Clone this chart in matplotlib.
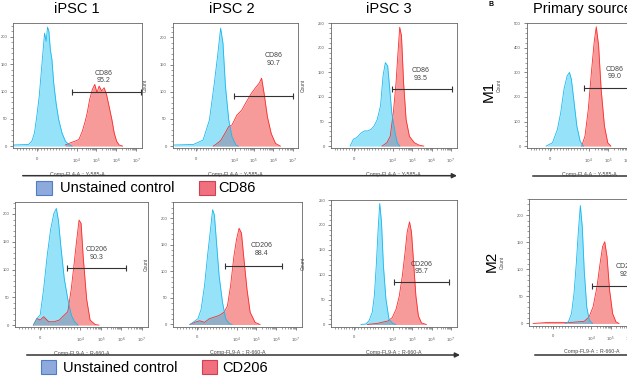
import numpy as np
import matplotlib
matplotlib.use("Agg")
import matplotlib.pyplot as plt
from matplotlib.patches import Rectangle

plt.rcParams['font.family'] = ['Liberation Sans', 'DejaVu Sans']

# ================= DATA =================
# x is in display units of the logicle axis: 2 -> "0", 4 -> 1e4, 5 -> 1e5 ...
# --- iPSC 1, CD86 ---
P1_CTRL_X = [0.81, 1.58, 1.75, 1.88, 2.0, 2.12, 2.22, 2.32, 2.39, 2.47, 2.54, 2.61, 2.68, 2.76, 2.85, 2.97, 3.1, 3.27, 3.44, 3.61, 3.78]
P1_CTRL_Y = [2, 3, 9, 24, 55, 91, 134, 177, 207, 192, 218, 210, 177, 159, 116, 79, 49, 24, 9, 3, 0]
P1_STAIN_X = [3.44, 3.69, 3.92, 4.12, 4.29, 4.42, 4.54, 4.66, 4.8, 4.92, 5.03, 5.14, 5.27, 5.39, 5.51, 5.64, 5.78, 5.9, 6.02, 6.15, 6.32]
P1_STAIN_Y = [2, 6, 9, 12, 27, 43, 61, 85, 104, 113, 98, 110, 101, 107, 95, 73, 49, 24, 9, 2, 0]

# --- iPSC 2, CD86 ---
P2_CTRL_X = [0.87, 1.87, 2.37, 2.7, 2.95, 3.12, 3.28, 3.4, 3.53, 3.7, 3.87, 4.07, 4.2]
P2_CTRL_Y = [2, 3, 11, 48, 115, 165, 217, 190, 110, 48, 17, 2, 0]
P2_STAIN_X = [2.9, 3.03, 3.28, 3.53, 3.7, 3.87, 4.12, 4.37, 4.62, 4.87, 5.12, 5.28, 5.4, 5.53, 5.7, 5.9, 6.12, 6.37]
P2_STAIN_Y = [0, 3, 10, 25, 36, 39, 57, 66, 82, 97, 109, 116, 125, 97, 54, 23, 5, 0]

# --- iPSC 3, CD86 ---
P3_CTRL_X = [1.8, 1.97, 2.13, 2.38, 2.55, 2.71, 2.88, 3.04, 3.2, 3.37, 3.5, 3.62, 3.74, 3.83, 3.95, 4.12, 4.23, 4.36]
P3_CTRL_Y = [0, 14, 17, 27, 31, 31, 34, 41, 54, 82, 143, 170, 163, 123, 68, 27, 7, 0]
P3_STAIN_X = [3.45, 3.7, 3.87, 4.03, 4.17, 4.26, 4.36, 4.45, 4.56, 4.69, 4.86, 5.11, 5.36, 5.6]
P3_STAIN_Y = [0, 7, 20, 68, 129, 184, 242, 225, 129, 54, 20, 7, 2, 0]

# --- Primary source M1, CD86 ---
M1_CTRL_X = [1.8, 2.13, 2.38, 2.55, 2.72, 2.88, 3.0, 3.1, 3.22, 3.38, 3.55, 3.72]
M1_CTRL_Y = [0, 14, 68, 136, 232, 286, 300, 272, 191, 82, 20, 0]
M1_STAIN_X = [3.63, 3.8, 3.97, 4.13, 4.27, 4.38, 4.5, 4.63, 4.8, 4.97, 5.13]
M1_STAIN_Y = [0, 41, 150, 300, 422, 486, 409, 232, 82, 14, 0]

# --- iPSC 1, CD206 ---
P5_CTRL_X = [1.7, 1.87, 2.03, 2.2, 2.37, 2.54, 2.7, 2.82, 2.92, 3.04, 3.21, 3.38, 3.55, 3.71, 3.88]
P5_CTRL_Y = [0, 12, 18, 65, 124, 172, 201, 210, 189, 142, 83, 47, 18, 6, 0]
P5_STAIN_X = [1.7, 1.87, 2.03, 2.2, 2.45, 2.7, 2.96, 3.21, 3.38, 3.55, 3.66, 3.8, 3.93, 4.03, 4.13, 4.3, 4.47, 4.72, 4.9]
P5_STAIN_Y = [0, 12, 9, 15, 6, 6, 9, 18, 24, 65, 101, 148, 189, 183, 124, 47, 9, 1, 0]

# --- iPSC 2, CD206 ---
P6_CTRL_X = [1.64, 1.8, 2.05, 2.21, 2.38, 2.55, 2.68, 2.79, 2.88, 2.99, 3.12, 3.29, 3.45, 3.62, 3.78]
P6_CTRL_Y = [0, 4, 11, 29, 73, 135, 178, 216, 206, 153, 91, 42, 11, 2, 0]
P6_STAIN_X = [1.64, 1.88, 2.13, 2.38, 2.63, 2.88, 3.12, 3.37, 3.54, 3.7, 3.87, 4.0, 4.13, 4.25, 4.36, 4.53, 4.69, 4.94, 5.19]
P6_STAIN_Y = [0, 4, 7, 4, 11, 14, 17, 23, 35, 73, 129, 160, 181, 172, 129, 66, 23, 4, 0]

# --- iPSC 3, CD206 ---
P7_CTRL_X = [2.35, 2.6, 2.76, 2.93, 3.04, 3.14, 3.24, 3.32, 3.41, 3.51, 3.64, 3.8, 4.0, 4.16]
P7_CTRL_Y = [0, 1, 7, 24, 57, 118, 193, 243, 206, 118, 51, 10, 2, 0]
P7_STAIN_X = [2.68, 3.18, 3.51, 3.75, 3.97, 4.16, 4.33, 4.49, 4.63, 4.74, 4.86, 4.96, 5.07, 5.19, 5.32, 5.48, 5.73]
P7_STAIN_Y = [0, 2, 5, 7, 14, 30, 57, 98, 145, 186, 206, 186, 125, 57, 17, 3, 0]

# --- Primary source M2, CD206 ---
M2_CTRL_X = [2.66, 2.82, 2.98, 3.11, 3.23, 3.34, 3.44, 3.54, 3.64, 3.77, 3.9, 4.07]
M2_CTRL_Y = [0, 3, 18, 55, 111, 172, 218, 178, 98, 31, 6, 0]
M2_STAIN_X = [1.0, 1.84, 2.98, 3.64, 3.89, 4.1, 4.3, 4.46, 4.59, 4.7, 4.82, 4.95, 5.11, 5.28, 5.44]
M2_STAIN_Y = [0, 2, 2, 4, 12, 31, 68, 111, 142, 151, 123, 62, 18, 3, 0]

# gates: (x start, x end, y), label position, marker name, percent
GATES = [
    (3.75, 7.25, 99, 5.34, 127, "CD86", "95.2"),
    (3.95, 7.0, 92, 6.03, 159, "CD86", "90.7"),
    (3.95, 7.04, 117, 5.44, 146, "CD86", "93.5"),
    (3.77, 7.5, 238, 5.3, 297, "CD86", "99.0"),
    (3.34, 6.24, 102, 4.81, 129, "CD206", "90.3"),
    (3.4, 6.3, 110, 5.27, 141, "CD206", "88.4"),
    (4.08, 6.92, 86, 5.48, 113, "CD206", "95.7"),
    (4.02, 7.5, 70, 5.84, 98, "CD206", "92.1"),
]

YMAX = [225, 226, 250, 500, 221, 231, 250, 230]
YSTEP = [50, 50, 50, 100, 50, 50, 50, 50]

CURVES = [
    (P1_CTRL_X, P1_CTRL_Y, P1_STAIN_X, P1_STAIN_Y),
    (P2_CTRL_X, P2_CTRL_Y, P2_STAIN_X, P2_STAIN_Y),
    (P3_CTRL_X, P3_CTRL_Y, P3_STAIN_X, P3_STAIN_Y),
    (M1_CTRL_X, M1_CTRL_Y, M1_STAIN_X, M1_STAIN_Y),
    (P5_CTRL_X, P5_CTRL_Y, P5_STAIN_X, P5_STAIN_Y),
    (P6_CTRL_X, P6_CTRL_Y, P6_STAIN_X, P6_STAIN_Y),
    (P7_CTRL_X, P7_CTRL_Y, P7_STAIN_X, P7_STAIN_Y),
    (M2_CTRL_X, M2_CTRL_Y, M2_STAIN_X, M2_STAIN_Y),
]

XLABELS = ["Comp-FL4-A :: Y-585-A"] * 4 + ["Comp-FL9-A :: R-660-A"] * 4
TITLES = [("iPSC 1", 77), ("iPSC 2", 231.7), ("iPSC 3", 389)]

# ================= LAYOUT (pixels: left, top, right, bottom) =================
W, H = 627, 376
BOXES = [
    (13, 23.3, 142, 148.3),
    (172.7, 23.3, 298.3, 148.3),
    (330.7, 23.3, 456.7, 148.3),
    (526.7, 23.3, 653, 148.3),
    (15, 202.3, 148, 327.3),
    (173.3, 201.7, 301.7, 326.7),
    (331, 200, 456.7, 326.7),
    (529.3, 199, 655, 325.7),
]

CTRL_FILL, CTRL_EDGE = "#2cc6f4", "#19b8f0"
STAIN_FILL, STAIN_EDGE = "#f24848", "#ff2a2a"

fig = plt.figure(figsize=(W / 100, H / 100), dpi=100)

# minor ticks of the logicle axis
x_minor = list(np.arange(1.0, 4.0, 0.15))
for d in range(4, 7):
    x_minor += [d + np.log10(k) for k in range(2, 10)]

for i, (l, t, r, b) in enumerate(BOXES):
    ax = fig.add_axes([l / W, 1 - b / H, (r - l) / W, (b - t) / H])
    cx, cy, sx, sy = CURVES[i]
    ax.fill_between(sx, sy, color=STAIN_FILL, alpha=0.55, lw=0)
    ax.plot(sx, sy, color=STAIN_EDGE, lw=0.6)
    ax.fill_between(cx, cy, color=CTRL_FILL, alpha=0.5, lw=0)
    ax.plot(cx, cy, color=CTRL_EDGE, lw=0.6)

    x0, x1, gy, lx, ly, name, pct = GATES[i]
    ax.plot([x0, x1], [gy, gy], color="#333333", lw=0.8, marker="|",
            markersize=4, markeredgewidth=0.8, clip_on=False)
    ax.text(lx, ly, name + "\n" + pct, ha="center", va="center",
            fontsize=5, color="#444444", linespacing=1.1)

    ymax = YMAX[i]
    ax.set_xlim(0.8, 7.3)
    ax.set_ylim(-0.018 * ymax, ymax)
    ax.set_xticks([2, 4, 5, 6, 7])
    ax.set_xticklabels(["0", "$10^{4}$", "$10^{5}$", "$10^{6}$", "$10^{7}$"])
    ax.set_xticks(x_minor, minor=True)
    ax.set_yticks(range(0, ymax + 1, YSTEP[i]))
    ax.set_yticks(np.arange(0, ymax + 1, YSTEP[i] / 5), minor=True)
    ax.tick_params(which="major", length=2.2, width=0.5, labelsize=3,
                   colors="#555555", pad=2)
    ax.tick_params(axis="x", which="major", pad=4)
    ax.tick_params(which="minor", length=1.2, width=0.4, colors="#555555")
    for s in ax.spines.values():
        s.set_linewidth(0.6)
        s.set_color("#666666")
    ax.set_xlabel(XLABELS[i], fontsize=3.8, color="#444444", labelpad=4)
    # the first column's "Count" label falls outside the figure in the original
    if i not in (0, 4):
        ax.set_ylabel("Count", fontsize=3.5, color="#444444")
        ax.yaxis.set_label_coords(-25 / (r - l), 0.5)

# overlay in pixel coordinates for titles, arrows and legends
ov = fig.add_axes([0, 0, 1, 1])
ov.set_xlim(0, W)
ov.set_ylim(H, 0)
ov.axis("off")

for title, x in TITLES:
    ov.text(x, 9, title, ha="center", va="center", fontsize=10.5)
ov.text(533, 9, "Primary source", ha="left", va="center", fontsize=10.5)
ov.text(491.5, 5, "B", ha="center", va="center", fontsize=5, fontweight="bold")
ov.text(489, 91, "M1", ha="center", va="center", fontsize=11, rotation=90)
ov.text(492, 261, "M2", ha="center", va="center", fontsize=11, rotation=90)

for y, xa, xb, xm in [(175.7, 22.7, 457, 533), (355, 26.7, 460, 535)]:
    ov.annotate("", xy=(xb, y), xytext=(xa, y),
                arrowprops=dict(arrowstyle="-|>", color="#333333", lw=1.1,
                                mutation_scale=7, shrinkA=0, shrinkB=0))
    ov.plot([xm, W + 5], [y, y], color="#333333", lw=1.1)

LEGENDS = [
    (36, 180.7, 60, 199, 218, "CD86"),
    (40.7, 360, 63, 201.7, 222.7, "CD206"),
]
for bx, by, tx, rx, rtx, name in LEGENDS:
    ov.add_patch(Rectangle((bx, by), 15.5, 14, fc="#8eaadc", ec="#4f7cc9", lw=0.8))
    ov.text(tx, by + 7.5, "Unstained control", ha="left", va="center", fontsize=10.5)
    ov.add_patch(Rectangle((rx, by), 15.5, 14, fc="#f07080", ec="#d04050", lw=0.8))
    ov.text(rtx, by + 7.5, name, ha="left", va="center", fontsize=10.5)

fig.savefig("out.png", dpi=100)
